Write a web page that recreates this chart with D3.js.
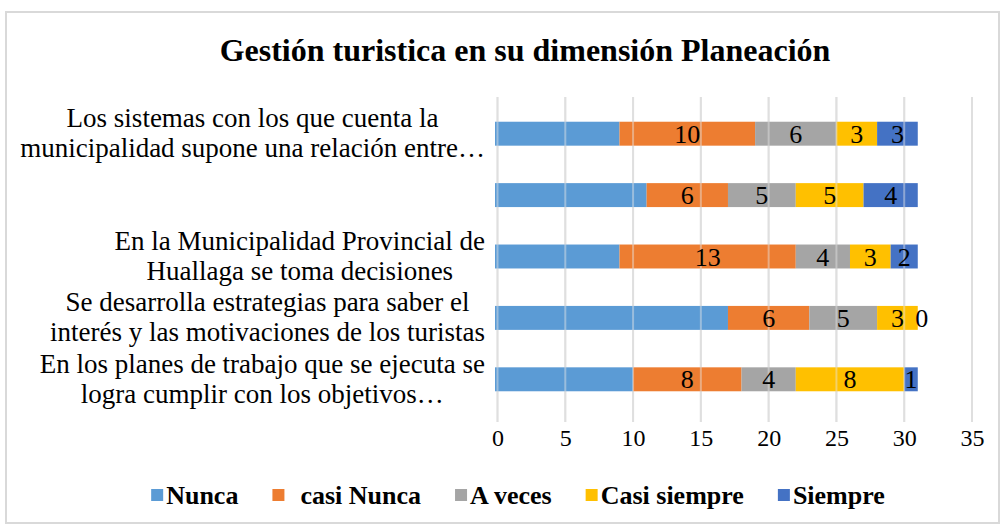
<!DOCTYPE html>
<html>
<head>
<meta charset="utf-8">
<script src="https://cdn.jsdelivr.net/npm/d3@7"></script>
<style>
  body { margin: 0; background: #fff; }
  svg { display: block; font-family: "Liberation Serif", "Times New Roman", serif; }
</style>
</head>
<body>
<div class="vis-planeacion"></div>
<script>
const categories = [
    'Los sistemas con los que cuenta la\nmunicipalidad supone una relación entre…',
    '',
    'En la Municipalidad Provincial de\nHuallaga se toma decisiones',
    'Se desarrolla estrategias para saber el\ninterés y las motivaciones de los turistas',
    'En los planes de trabajo que se ejecuta se\nlogra cumplir con los objetivos…'
];
const seriesNames = ['Nunca', '  casi Nunca', 'A veces', 'Casi siempre', 'Siempre'];
const nunca = [9, 11, 9, 17, 10];
const casiNunca = [10, 6, 13, 6, 8];
const aVeces = [6, 5, 4, 5, 4];
const casiSiempre = [3, 5, 3, 3, 8];
const siempre = [3, 4, 2, 0, 1];
const tickValues = [0, 5, 10, 15, 20, 25, 30, 35];
const colors = ['#5b9bd5', '#ed7d31', '#a5a5a5', '#ffc000', '#4472c4'];

const width = 1004, height = 528;
const svg = d3.select('.vis-planeacion').append('svg')
    .attr('width', width)
    .attr('height', height);

// outer frame
svg.append('rect')
    .attr('x', 6).attr('y', 12)
    .attr('width', 993).attr('height', 511)
    .attr('fill', 'none')
    .attr('stroke', '#d9d9d9')
    .attr('stroke-width', 2);

svg.append('text')
    .attr('x', 525).attr('y', 61)
    .attr('text-anchor', 'middle')
    .style('font-weight', 'bold')
    .style('font-size', '32px')
    .text('Gestión turistica en su dimensión Planeación');

const allSeries = [nunca, casiNunca, aVeces, casiSiempre, siempre];
const rows = categories.map((c, i) => {
    const row = {idx: i};
    allSeries.forEach((s, k) => row[k] = s[i]);
    return row;
});
const stacked = d3.stack().keys(d3.range(allSeries.length))(rows);

const x = d3.scaleLinear().domain([0, 35]).range([497.5, 972]);
const y = d3.scaleBand()
    .domain(d3.range(categories.length))
    .range([103, 410])
    .paddingInner(0.61)
    .paddingOuter(0.305);

const gridTop = 97, gridBottom = 422;

// gridlines behind
svg.append('g').selectAll('line')
    .data(tickValues).enter().append('line')
    .attr('x1', d => x(d)).attr('x2', d => x(d))
    .attr('y1', gridTop).attr('y2', gridBottom)
    .attr('stroke', '#d9d9d9').attr('stroke-width', 2);

// bars
const layers = svg.append('g').selectAll('g')
    .data(stacked).enter().append('g')
    .attr('fill', d => colors[d.key]);

layers.selectAll('rect')
    .data(d => d)
    .enter().append('rect')
    .attr('x', d => x(d[0]) - (d[0] === 0 ? 2.5 : 0))
    .attr('y', (d, i) => y(i))
    .attr('width', d => x(d[1]) - x(d[0]) + (d[0] === 0 ? 2.5 : 0))
    .attr('height', y.bandwidth());

// faint gridlines over the bars
svg.append('g').selectAll('line')
    .data(tickValues).enter().append('line')
    .attr('x1', d => x(d)).attr('x2', d => x(d))
    .attr('y1', gridTop).attr('y2', gridBottom)
    .attr('stroke', '#e6e6e6').attr('stroke-width', 2)
    .attr('stroke-opacity', 0.45);

// data labels (all series but Nunca)
stacked.slice(1).forEach(layer => {
    svg.append('g').selectAll('text')
        .data(layer).enter().append('text')
        .attr('x', d => (x(d[0]) + x(d[1])) / 2 + (d[1] === d[0] ? 4 : 0))
        .attr('y', (d, i) => y(i) + y.bandwidth() / 2)
        .attr('dy', '0.35em')
        .attr('text-anchor', 'middle')
        .style('font-size', '26px')
        .attr('fill', '#000')
        .text(d => d[1] - d[0]);
});

// x axis
const xAxis = svg.append('g')
    .attr('transform', 'translate(0,' + gridBottom + ')')
    .call(d3.axisBottom(x).tickValues(tickValues).tickSize(0).tickPadding(7));
xAxis.select('.domain').remove();
xAxis.selectAll('text')
    .style('font-size', '24px')
    .style('font-family', '"Liberation Serif", "Times New Roman", serif')
    .attr('fill', '#000');

// category labels, centred lines, block right-aligned to the axis
const labelRight = 485;
categories.forEach((c, i) => {
    if (!c) return;
    const lines = c.split('\n');
    const g = svg.append('g');
    const texts = lines.map((ln, j) => g.append('text')
        .attr('y', y(i) + y.bandwidth() / 2 - 16 + j * 30)
        .attr('dy', '0.35em')
        .attr('text-anchor', 'middle')
        .style('font-size', '27px')
        .text(ln));
    const maxW = d3.max(texts, t => t.node().getComputedTextLength());
    texts.forEach(t => t.attr('x', labelRight - maxW / 2));
});

// legend
const legend = svg.append('g');
const legendGap = 34;
let lx = 0;
seriesNames.forEach((name, k) => {
    const item = legend.append('g').attr('transform', 'translate(' + lx + ',0)');
    item.append('rect')
        .attr('x', 0).attr('y', -6)
        .attr('width', 12).attr('height', 12)
        .attr('fill', colors[k]);
    const t = item.append('text')
        .attr('x', 15).attr('dy', '0.35em')
        .style('font-weight', 'bold')
        .style('font-size', '26px')
        .style('white-space', 'pre')
        .text(name);
    lx += 15 + t.node().getComputedTextLength() + legendGap;
});
lx -= legendGap;
legend.attr('transform', 'translate(' + (518 - lx / 2) + ',495)');
</script>
</body>
</html>
